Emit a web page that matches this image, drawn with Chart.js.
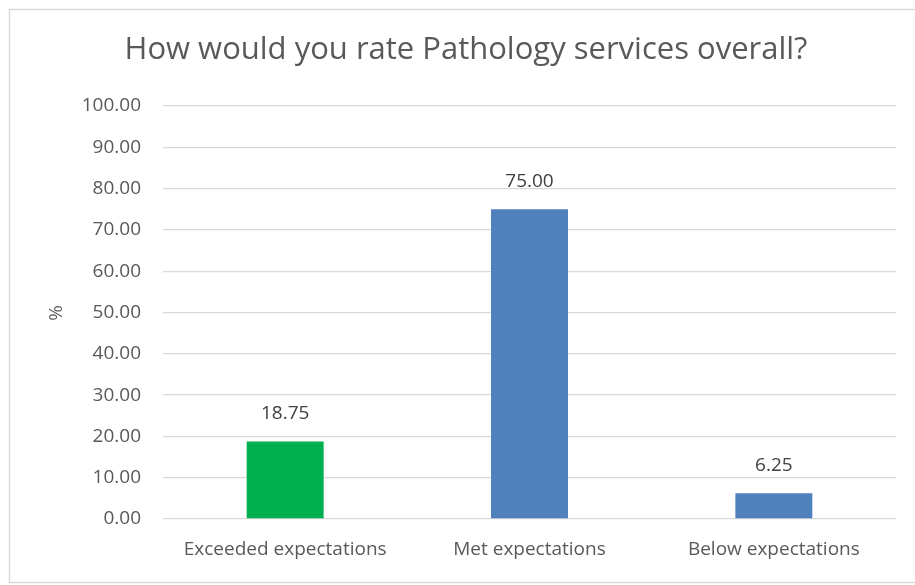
<!DOCTYPE html>
<html>
<head>
<meta charset="utf-8">
<script src="https://cdn.jsdelivr.net/npm/chart.js@4"></script>
<style>
    html, body { margin: 0; padding: 0; background: #fff; overflow: hidden; }
    #wrap { width: 915px; height: 585px; position: relative; }
</style>
</head>
<body>
<div id="wrap"><canvas id="grafico"></canvas></div>
<script>
const categorias = ['Exceeded expectations', 'Met expectations', 'Below expectations'];
const valores = [18.75, 75.00, 6.25];
const cores = ['#00B050', '#4F81BD', '#4F81BD'];
const titulo = 'How would you rate Pathology services overall?';
const tituloEixoY = '%';

const corTexto = '#595959';
const fonte = '"Open Sans", "Liberation Sans", sans-serif';

// borda do quadro, titulo e rotulos de dados
const extras = {
    id: 'extras',
    beforeDraw(chart) {
        const c = chart.ctx;
        c.save();
        c.fillStyle = '#fff';
        c.fillRect(0, 0, chart.width, chart.height);
        c.strokeStyle = '#D9D9D9';
        c.lineWidth = 1.5;
        c.beginPath();
        c.moveTo(chart.width, 9.5);
        c.lineTo(9.5, 9.5);
        c.lineTo(9.5, 582.5);
        c.lineTo(chart.width, 582.5);
        c.stroke();
        c.restore();
    },
    afterDraw(chart) {
        const c = chart.ctx;
        c.save();
        c.fillStyle = corTexto;
        c.textAlign = 'center';
        c.textBaseline = 'middle';
        c.font = '31px ' + fonte;
        c.fillText(titulo, 466, 50);

        c.font = '19px ' + fonte;
        c.translate(57, 313);
        c.rotate(-Math.PI / 2);
        c.fillText(tituloEixoY, 0, 0);
        c.restore();

        c.save();
        c.fillStyle = '#404040';
        c.textAlign = 'center';
        c.textBaseline = 'middle';
        c.font = '19px ' + fonte;
        const meta = chart.getDatasetMeta(0);
        meta.data.forEach(function(bar, i) {
            c.fillText(valores[i].toFixed(2), bar.x, bar.y - 28);
        });
        c.restore();
    }
};

const grafico = new Chart(document.getElementById('grafico'), {
    type: 'bar',
    data: {
        labels: categorias,
        datasets: [{
            data: valores,
            backgroundColor: cores,
            borderWidth: 0,
            categoryPercentage: 1,
            barPercentage: 0.315
        }]
    },
    options: {
        responsive: true,
        maintainAspectRatio: false,
        animation: false,
        layout: { padding: { top: 106, left: 9, right: 19, bottom: 6 } },
        plugins: {
            legend: { display: false },
            tooltip: { enabled: false }
        },
        scales: {
            x: {
                grid: { display: false, drawTicks: false },
                border: { display: false },
                ticks: { color: corTexto, font: { family: fonte, size: 19 }, padding: 19 },
                afterFit(scale) { scale.height = 60; }
            },
            y: {
                min: 0,
                max: 100,
                grid: { color: '#D9D9D9', lineWidth: 1.3, drawTicks: false },
                border: { display: false },
                ticks: {
                    stepSize: 10,
                    color: corTexto,
                    font: { family: fonte, size: 19 },
                    padding: 22,
                    callback: function(v) { return Number(v).toFixed(2); }
                },
                afterFit(scale) { scale.width = 154; }
            }
        }
    },
    plugins: [extras]
});
</script>
</body>
</html>
